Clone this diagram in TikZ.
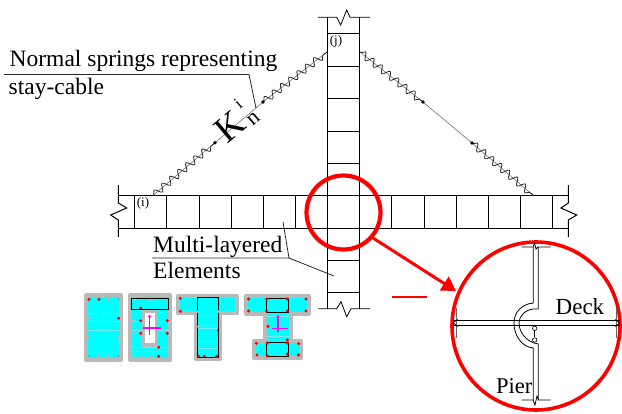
\documentclass[tikz,border=0pt]{standalone}
\usepackage{fontspec}
\setmainfont{Liberation Serif}
\usetikzlibrary{decorations.pathmorphing,arrows.meta}
\definecolor{secgrey}{RGB}{185,185,185}
\definecolor{seccyan}{RGB}{0,255,255}
\definecolor{seclight}{RGB}{120,235,240}
\definecolor{pink}{RGB}{255,0,255}
\tikzset{
  frame/.style={line width=1pt,black},
  framethin/.style={line width=0.8pt,black},
  wavy/.style={line width=0.8pt,black!85,decorate,decoration={snake,segment length=10.5pt,amplitude=3.6pt,pre length=1pt,post length=1pt}},
  cable/.style={line width=0.7pt,black!50},
  leader/.style={line width=0.8pt,black!85},
  lbl/.style={inner sep=0pt,anchor=base west,font=\fontsize{23.5}{25}\selectfont},
  small/.style={inner sep=0pt,font=\fontsize{13}{14}\selectfont},
  sec/.style={draw=secgrey,line width=4pt,fill=seccyan,line join=round},
  strip/.style={draw=seclight,line width=0.9pt},
  blackbox/.style={draw=black,line width=1pt},
  pinkline/.style={draw=pink,line width=1.4pt},
  hinge/.style={draw=black,line width=0.6pt,fill=white,circle,minimum size=4.5pt,inner sep=0pt},
}
\begin{document}
\begin{tikzpicture}[x=1pt,y=-1pt]
\useasboundingbox (0,0) rectangle (622,413);
% deck
\draw[frame] (118.3,195) -- (568.3,195) (118.3,228) -- (568.3,228);
\foreach \xx in {134.7,166.9,199.1,231.3,263.3,295.3,391.7,424,456,488.2,520.6,552.6}
  \draw[frame] (\xx,195) -- (\xx,228);
\draw[frame] (118.3,185) -- (118.3,203) -- (126.7,208) -- (110.7,215) -- (118.3,220) -- (118.3,237);
\draw[frame] (568.3,185) -- (568.3,203) -- (561,208) -- (576.7,215) -- (568.3,220) -- (568.3,237);
% pier
\draw[frame] (327.3,17.3) -- (327.3,308.7) (359.3,17.3) -- (359.3,308.7);
\foreach \yy in {33.5,66,98.5,131,163.5,195,228,260.5,292.5}
  \draw[frame] (327.3,\yy) -- (359.3,\yy);
\draw[framethin] (318,17.3) -- (336.7,17.3) -- (340.7,25) -- (346.7,10) -- (350,17.3) -- (370,17.3);
\draw[framethin] (318.3,308.7) -- (336.7,308.7) -- (341,301.7) -- (346.7,316.7) -- (351,308.7) -- (370,308.7);
% cables
\coordinate (la) at (153,195.5);
\coordinate (lb) at (215,142.7);
\coordinate (lc) at (263,102);
\coordinate (ld) at (327,52);
\coordinate (ra) at (360,52);
\coordinate (rb) at (423,102);
\coordinate (rc) at (472,143);
\coordinate (rd) at (534,196);
\draw[cable] (la) -- (lb) -- (lc) -- (ld);
\draw[cable] (ra) -- (rb) -- (rc) -- (rd);
\draw[wavy] (la) -- (lb);
\draw[wavy] (lc) -- (ld);
\draw[wavy] (ra) -- (rb);
\draw[wavy] (rc) -- (rd);
\foreach \pp in {lb,lc,rb,rc} \fill (\pp) circle (1.8pt);
% labels
\node[small] (ilab) at (143,203) {(i)};
\node[small] (jlab) at (336,41) {(j)};
\node[rotate=40,inner sep=0pt,font=\fontsize{37}{39}\selectfont] (klab) at (230,127) {K};
\node[rotate=40,inner sep=0pt,font=\fontsize{22}{24}\selectfont] (nlab) at (253.5,119) {n};
\node[rotate=40,inner sep=0pt,font=\fontsize{17}{19}\selectfont] (ilab2) at (238,104) {i};
\node[lbl] (t1) at (9.5,66) {Normal springs representing};
\node[lbl] (t2) at (8.5,94) {stay-cable};
\node[lbl] (t3) at (153,252) {Multi-layered};
\node[lbl] (t4) at (153,278) {Elements};
\coordinate (l1a) at (4,74.5);
\coordinate (l1b) at (249,74.5);
\coordinate (l1c) at (256,108);
\draw[leader] (l1a) -- (l1b) -- (l1c);
\coordinate (l2a) at (152,258);
\coordinate (l2b) at (289,258);
\coordinate (l2c) at (283,222);
\coordinate (l2d) at (334,276);
\draw[leader] (l2a) -- (l2b) -- (l2c);
\draw[leader] (l2b) -- (l2d);
% red
\node[draw=red,line width=4.2pt,circle,minimum size=74pt,inner sep=0pt] (small circle) at (343.5,212.5) {};
\node[draw=red,line width=3.6pt,circle,minimum size=168pt,inner sep=0pt] (big circle) at (536,326) {};
\coordinate (arrowstart) at (373,238);
\coordinate (arrowend) at (456,291);
\draw[red,line width=3pt,-{Triangle[length=14pt,width=16pt]}] (arrowstart) -- (arrowend);
\coordinate (dasha) at (392.3,296.7);
\coordinate (dashb) at (426.7,296.7);
\draw[red,line width=2pt] (dasha) -- (dashb);
% detail
\draw[framethin] (453,320.7) -- (620,320.7) (453,325) -- (620,325);
\draw[framethin,black!60] (456,308) -- (456,338) (616,308) -- (616,338);
\draw[framethin] (453,322.8) -- (458,319.5) (453,322.8) -- (458,326.5);
\draw[framethin] (620,322.8) -- (615,319.5) (620,322.8) -- (615,326.5);
\draw[framethin] (533.3,247) -- (533.3,303) .. controls (522,304) and (514,312) .. (514,323) .. controls (514,336) and (522,347) .. (533.3,348) -- (533.3,400);
\draw[framethin] (538.3,247) -- (538.3,309) -- (533.3,309) .. controls (525,310) and (519,316) .. (519,323) .. controls (519,332) and (526,342) .. (538.3,344) -- (538.3,400);
\draw[framethin] (521.7,247) -- (533,247) -- (534.5,243) -- (536,249) -- (538,247) -- (550.7,247);
\draw[framethin] (521.7,400) -- (533,400) -- (535,405) -- (537,396) -- (538.5,400) -- (550.7,400);
\node[hinge] (hingea) at (534.7,328.3) {};
\node[hinge] (hingeb) at (534.7,340) {};
\draw[line width=0.6pt] (hingea) -- (hingeb);
\node[lbl,font=\fontsize{23}{25}\selectfont] (deck) at (555.5,314.5) {Deck};
\node[lbl,font=\fontsize{22.5}{25}\selectfont] (pier) at (496,393.5) {Pier};
% sections
\begin{scope}[shift={(70,280)},x=0.3333pt,y=-0.3333pt]
\def\rd#1#2{\fill[red] (#1,#2) circle (1.7pt);}
\def\gd#1#2{\fill[black!45] (#1,#2) circle (1pt);}
\def\gb#1#2{\fill[secgrey] (#1,#2) circle (1.5pt);}
% section 1
\draw[sec] (49,46) rectangle (154,239);
\draw[strip] (55,100) -- (148,100) (55,125) -- (148,125) (55,150) -- (148,150) (100,100) -- (100,150);
\draw[secgrey,line width=1.6pt] (55,172) -- (148,172);
\gb{57}{115}\gb{146}{172}\gb{57}{172}\gb{115}{58}\gb{85}{228}\gb{115}{228}\gd{57}{228}\gd{146}{228}\gd{146}{58}
\rd{57}{58}\rd{87}{58}\rd{146}{115}
% section 2
\draw[sec] (181,46) rectangle (301,239);
\draw[secgrey,line width=3.4pt,fill=white] (220,95) rectangle (260,195);
\draw[strip] (185,125) -- (214,125) (185,150) -- (214,150) (266,125) -- (297,125) (266,150) -- (297,150) (185,203) -- (297,203) (185,215) -- (297,215);
\draw[blackbox] (185,55) rectangle (296,88);
\gb{240}{60}\gb{190}{122}\gb{190}{160}\gb{240}{228}\gb{190}{228}\gb{215}{228}
\rd{212}{85}\rd{212}{122}\rd{212}{160}\rd{292}{122}\rd{292}{160}\rd{266}{202}\rd{266}{229}
\draw[pinkline] (239,108) -- (239,165) (220,144) -- (273,144);
\fill[pink] (239,110) circle (1.6pt);
% section 3
\draw[sec] (324,48) -- (502,48) -- (502,100) -- (450,100) -- (450,237) -- (378,237) -- (378,100) -- (324,100) -- cycle;
\draw[strip] (383,105) -- (445,105) (383,135) -- (445,135) (383,145) -- (445,145) (383,185) -- (445,185) (383,205) -- (445,205);
\draw[blackbox] (383,53) rectangle (445,232);
\gb{383}{95}\gb{445}{95}\gb{385}{140}\gb{420}{228}
\rd{331}{55}\rd{331}{94}\rd{386}{229}\rd{403}{229}\rd{440}{229}
\fill[pink] (441,147) rectangle (445,155);
% section 4
\draw[sec] (528,48) -- (716,48) -- (716,101) -- (662,101) -- (662,182) -- (694,182) -- (694,234) -- (551,234) -- (551,182) -- (584,182) -- (584,101) -- (528,101) -- cycle;
\draw[blackbox] (590,55) rectangle (656,97);
\draw[blackbox] (590,187) rectangle (656,230);
\draw[strip] (590,108) -- (656,108) (590,170) -- (656,170);
\rd{536}{57}\rd{536}{93}\rd{590}{57}\rd{652}{57}\rd{708}{57}\rd{708}{93}\rd{652}{93}\rd{590}{93}
\rd{594}{139}\rd{652}{180}\rd{592}{189}\rd{559}{190}\rd{652}{189}\rd{686}{191}\rd{561}{225}\rd{592}{228}\rd{652}{222}\rd{686}{225}
\draw[pinkline] (624,110) -- (624,157) (607,146) -- (654,146);
\fill[pink] (624,110) circle (1.6pt);
\end{scope}
\end{tikzpicture}
\end{document}
